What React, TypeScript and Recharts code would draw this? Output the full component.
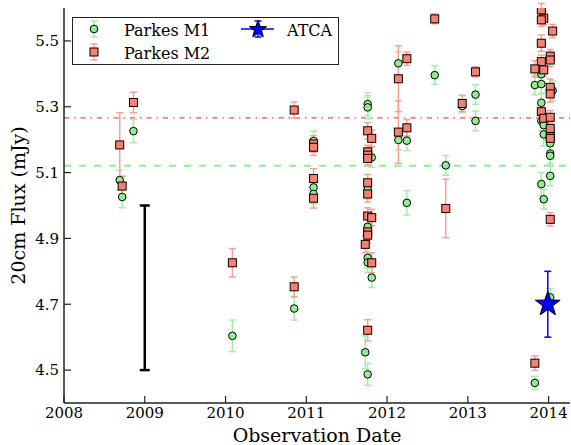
import React from 'react';
import { ScatterChart, Scatter, XAxis, YAxis, ErrorBar, ReferenceLine } from 'recharts';

// Parkes M1 (green circles)
const m1Dates = [
  2008.69, 2008.72, 2008.86, 2010.085, 2010.85, 2011.09, 2011.09, 2011.09,
  2011.76, 2011.76, 2011.81, 2011.76, 2011.76, 2011.76, 2011.76, 2011.81, 2011.73, 2011.76,
  2012.14, 2012.14, 2012.245, 2012.245, 2012.59, 2012.727, 2012.93, 2013.095, 2013.095,
  2013.83, 2013.91, 2013.91, 2014.05, 2013.91, 2013.91, 2013.94, 2013.94, 2014.02, 2014.02,
  2014.02, 2014.02, 2013.91, 2013.94, 2014.02, 2013.83,
];
const m1Flux = [
  5.077, 5.026, 5.226, 4.604, 4.687, 5.196, 5.055, 5.035,
  5.308, 5.298, 5.146, 5.049, 4.935, 4.841, 4.827, 4.781, 4.554, 4.487,
  5.432, 5.199, 5.197, 5.008, 5.396, 5.122, 5.302, 5.337, 5.257,
  5.366, 5.399, 5.369, 5.349, 5.312, 5.257, 5.244, 5.216, 5.189, 5.158,
  5.151, 5.09, 5.065, 5.019, 4.721, 4.461,
];
const m1Err = [
  0.03, 0.033, 0.035, 0.048, 0.035, 0.03, 0.03, 0.03,
  0.035, 0.035, 0.03, 0.03, 0.03, 0.03, 0.03, 0.03, 0.05, 0.033,
  0.035, 0.03, 0.03, 0.037, 0.028, 0.03, 0.02, 0.03, 0.03,
  0.03, 0.03, 0.03, 0.03, 0.03, 0.03, 0.03, 0.035, 0.03, 0.03,
  0.03, 0.03, 0.035, 0.03, 0.027, 0.02,
];

// Parkes M2 (salmon squares)
const m2Dates = [
  2008.69, 2008.72, 2008.86, 2010.085, 2010.85, 2010.85, 2011.09, 2011.09, 2011.09, 2011.09,
  2011.76, 2011.81, 2011.76, 2011.76, 2011.76, 2011.76, 2011.76, 2011.76, 2011.81, 2011.76,
  2011.76, 2011.73, 2011.81, 2011.76,
  2012.14, 2012.14, 2012.245, 2012.245, 2012.59, 2012.727, 2012.93, 2013.095,
  2013.91, 2013.94, 2013.91, 2014.05, 2013.91, 2014.02, 2014.02, 2013.91, 2013.83, 2013.94,
  2014.02, 2014.02, 2013.91, 2013.94, 2014.02, 2014.02, 2014.02, 2014.02, 2014.02, 2013.83,
];
const m2Flux = [
  5.184, 5.059, 5.313, 4.826, 4.753, 5.29, 5.187, 5.177, 5.082, 5.022,
  5.227, 5.204, 5.163, 5.153, 5.143, 5.069, 5.035, 4.968, 4.963, 4.92,
  4.91, 4.882, 4.826, 4.621,
  5.385, 5.223, 5.446, 5.236, 5.567, 4.991, 5.31, 5.406,
  5.594, 5.569, 5.564, 5.53, 5.493, 5.454, 5.442, 5.437, 5.415, 5.412,
  5.359, 5.339, 5.285, 5.265, 5.268, 5.234, 5.209, 5.204, 4.958, 4.521,
];
const m2Err = [
  0.098, 0.03, 0.031, 0.043, 0.03, 0.024, 0.025, 0.025, 0.03, 0.03,
  0.025, 0.025, 0.02, 0.02, 0.02, 0.025, 0.025, 0.025, 0.025, 0.025,
  0.025, 0.025, 0.03, 0.032,
  0.1, 0.095, 0.02, 0.025, 0.015, 0.089, 0.025, 0.015,
  0.02, 0.02, 0.02, 0.02, 0.025, 0.02, 0.02, 0.02, 0.025, 0.02,
  0.025, 0.025, 0.02, 0.02, 0.02, 0.02, 0.02, 0.02, 0.02, 0.022,
];

// ATCA measurement
const atcaDates = [2013.99];
const atcaFlux = [4.7];
const atcaErr = [0.1];

// Typical error bar shown for scale
const scaleBarDate = [2009.0];
const scaleBarFlux = [4.75];
const scaleBarErr = [0.25];

// Mean levels
const m1Mean = 5.121;
const m2Mean = 5.266;

const xTicks = [2008, 2009, 2010, 2011, 2012, 2013, 2014];
const yTicks = [4.5, 4.7, 4.9, 5.1, 5.3, 5.5];

const seriesNames = ['Parkes M1', 'Parkes M2', 'ATCA'];

const GREEN = '#90ee90';
const GREEN_ERR = '#a6eea6';
const SALMON = '#fa8072';
const SALMON_ERR = '#f9a096';
const BLUE = '#0000ff';
const AXIS = '#222';
const FONT = '"DejaVu Serif", serif';

const toPoints = (dates: number[], flux: number[], err: number[]) =>
  dates.map((x, i) => ({ x, y: flux[i], err: err[i] }));

const m1Data = toPoints(m1Dates, m1Flux, m1Err);
const m2Data = toPoints(m2Dates, m2Flux, m2Err);
const atcaData = toPoints(atcaDates, atcaFlux, atcaErr);
const scaleData = toPoints(scaleBarDate, scaleBarFlux, scaleBarErr);

const starPoints = (cx: number, cy: number, R: number, r: number) => {
  const pts: string[] = [];
  for (let i = 0; i < 10; i++) {
    const rad = i % 2 === 0 ? R : r;
    const a = -Math.PI / 2 + (i * Math.PI) / 5;
    pts.push(`${(cx + rad * Math.cos(a)).toFixed(2)},${(cy + rad * Math.sin(a)).toFixed(2)}`);
  }
  return pts.join(' ');
};

const CircleMark = (p: any) => (
  <circle cx={p.cx} cy={p.cy} r={3.8} fill={GREEN} stroke="#000" strokeWidth={1} />
);
const SquareMark = (p: any) => (
  <rect x={p.cx - 4} y={p.cy - 4} width={8} height={8} fill={SALMON} stroke="#000" strokeWidth={1} />
);
const StarMark = (p: any) => (
  <polygon points={starPoints(p.cx, p.cy, 13, 5.2)} fill={BLUE} stroke="#000" strokeWidth={1} />
);
const NoMark = () => <g />;

const tickStyle = { fontSize: 15, fontFamily: FONT, fill: '#000' };

const XLabel = (props: any) => {
  const vb = props.viewBox;
  return (
    <text x={vb.x + vb.width / 2} y={vb.y + 38.5} textAnchor="middle" fontSize={19} fontFamily={FONT} fill="#000">
      Observation Date
    </text>
  );
};
const YLabel = (props: any) => {
  const vb = props.viewBox;
  const cx = vb.x + 25;
  const cy = vb.y + vb.height / 2;
  return (
    <text x={cx} y={cy} transform={`rotate(-90 ${cx} ${cy})`} textAnchor="middle" fontSize={19} fontFamily={FONT} fill="#000">
      20cm Flux (mJy)
    </text>
  );
};

const LegendBox = () => (
  <svg width={571} height={445} style={{ position: 'absolute', left: 0, top: 0, pointerEvents: 'none' }}>
    <rect x={72.5} y={17.5} width={266} height={47} fill="#fff" stroke={AXIS} strokeWidth={1} />
    {/* Parkes M1 */}
    <line x1={94} y1={21} x2={94} y2={37} stroke={GREEN_ERR} strokeWidth={1.5} />
    <line x1={90.5} y1={21} x2={97.5} y2={21} stroke={GREEN_ERR} strokeWidth={1.5} />
    <line x1={90.5} y1={37} x2={97.5} y2={37} stroke={GREEN_ERR} strokeWidth={1.5} />
    <CircleMark cx={94} cy={29} />
    <text x={124} y={35.5} fontSize={16} fontFamily={FONT} fill="#000">{seriesNames[0]}</text>
    {/* Parkes M2 */}
    <line x1={94} y1={44} x2={94} y2={60} stroke={SALMON_ERR} strokeWidth={1.5} />
    <line x1={90.5} y1={44} x2={97.5} y2={44} stroke={SALMON_ERR} strokeWidth={1.5} />
    <line x1={90.5} y1={60} x2={97.5} y2={60} stroke={SALMON_ERR} strokeWidth={1.5} />
    <SquareMark cx={94} cy={52} />
    <text x={124} y={58.5} fontSize={16} fontFamily={FONT} fill="#000">{seriesNames[1]}</text>
    {/* ATCA */}
    <line x1={241} y1={29} x2={274} y2={29} stroke={BLUE} strokeWidth={1.5} />
    <line x1={258} y1={21} x2={258} y2={37} stroke={BLUE} strokeWidth={1.5} />
    <line x1={254.5} y1={21} x2={261.5} y2={21} stroke={BLUE} strokeWidth={1.5} />
    <line x1={254.5} y1={37} x2={261.5} y2={37} stroke={BLUE} strokeWidth={1.5} />
    <polygon points={starPoints(258, 29.5, 9, 3.7)} fill={BLUE} stroke="#000" strokeWidth={1} />
    <text x={287} y={35.5} fontSize={16} fontFamily={FONT} fill="#000">{seriesNames[2]}</text>
  </svg>
);

export default function App() {
  return (
    <div style={{ position: 'absolute', left: 0, top: 0, width: 571, height: 445, background: '#fff' }}>
      <ScatterChart width={571} height={445} margin={{ top: 8, right: 1, bottom: 0, left: 0 }}>
        <XAxis
          type="number"
          dataKey="x"
          domain={[2008, 2014.265]}
          ticks={xTicks}
          interval={0}
          allowDataOverflow
          height={42}
          tickSize={-7}
          tickMargin={11}
          tick={tickStyle}
          tickFormatter={(v: number) => String(v)}
          axisLine={{ stroke: AXIS, strokeWidth: 1.5 }}
          tickLine={{ stroke: AXIS, strokeWidth: 1.2 }}
          label={<XLabel />}
        />
        <XAxis
          xAxisId="top"
          orientation="top"
          type="number"
          dataKey="x"
          domain={[2008, 2014.265]}
          ticks={xTicks}
          interval={0}
          allowDataOverflow
          height={0}
          tickSize={-7}
          tickFormatter={() => ''}
          axisLine={{ stroke: AXIS, strokeWidth: 1.5 }}
          tickLine={{ stroke: AXIS, strokeWidth: 1.2 }}
        />
        <YAxis
          type="number"
          dataKey="y"
          domain={[4.4, 5.6]}
          ticks={yTicks}
          interval={0}
          allowDataOverflow
          width={64}
          tickSize={-7}
          tickMargin={12}
          tick={tickStyle}
          tickFormatter={(v: number) => v.toFixed(1)}
          axisLine={{ stroke: AXIS, strokeWidth: 1.5 }}
          tickLine={{ stroke: AXIS, strokeWidth: 1.2 }}
          label={<YLabel />}
        />
        <YAxis
          yAxisId="right"
          orientation="right"
          type="number"
          dataKey="y"
          domain={[4.4, 5.6]}
          ticks={yTicks}
          interval={0}
          allowDataOverflow
          width={0}
          tickSize={-7}
          tickFormatter={() => ''}
          axisLine={{ stroke: AXIS, strokeWidth: 1.5 }}
          tickLine={{ stroke: AXIS, strokeWidth: 1.2 }}
        />
        <ReferenceLine y={m1Mean} stroke={GREEN} strokeWidth={2} strokeDasharray="7 8" />
        <ReferenceLine y={m2Mean} stroke={SALMON} strokeWidth={1.8} strokeDasharray="5 5 1.5 5" />
        <Scatter name="scale" data={scaleData} shape={NoMark} isAnimationActive={false}>
          <ErrorBar dataKey="err" direction="y" width={5} stroke="#000" strokeWidth={2.5} />
        </Scatter>
        <Scatter name={seriesNames[0]} data={m1Data} shape={CircleMark} isAnimationActive={false}>
          <ErrorBar dataKey="err" direction="y" width={3.5} stroke={GREEN_ERR} strokeWidth={1.5} />
        </Scatter>
        <Scatter name={seriesNames[1]} data={m2Data} shape={SquareMark} isAnimationActive={false}>
          <ErrorBar dataKey="err" direction="y" width={3.5} stroke={SALMON_ERR} strokeWidth={1.5} />
        </Scatter>
        <Scatter name={seriesNames[2]} data={atcaData} shape={StarMark} isAnimationActive={false}>
          <ErrorBar dataKey="err" direction="y" width={3.5} stroke={BLUE} strokeWidth={1.5} />
        </Scatter>
      </ScatterChart>
      <LegendBox />
    </div>
  );
}
